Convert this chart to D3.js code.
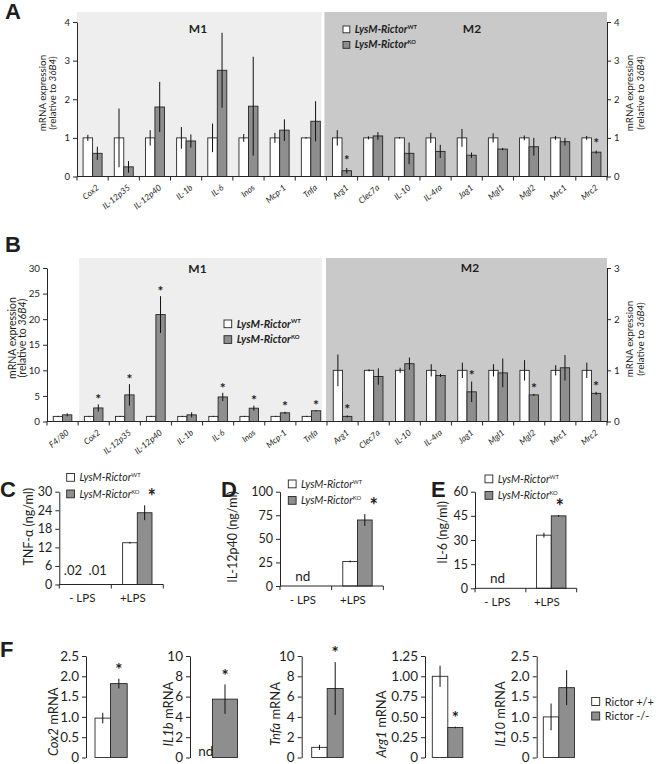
<!DOCTYPE html>
<html><head><meta charset="utf-8">
<script src="https://cdn.jsdelivr.net/npm/d3@7/dist/d3.min.js"></script>
<style>
body{margin:0;background:#fff;}
svg{display:block;}
text{font-family:Lato,"Open Sans","DejaVu Sans",sans-serif;fill:#1e1e1e;}
</style></head><body>
<svg id="fig" width="665" height="764"></svg>
<script>
// ================= DATA =================
// Panel A (mRNA expression relative to 36B4)
const catsA = ["Cox2","IL-12p35","IL-12p40","IL-1b","IL-6","Inos","Mcp-1","Tnfa","Arg1","Clec7a","IL-10","IL-4ra","Jag1","Mgl1","Mgl2","Mrc1","Mrc2"];
const m1CatsA = ["Cox2","IL-12p35","IL-12p40","IL-1b","IL-6","Inos","Mcp-1","Tnfa"];
const wtA    = [1,1,1,1,1,1,1,1,1,1,1,1,1,1,1,1,1];
const wtErrA = [0.08,0.76,0.2,0.28,0.37,0.1,0.13,0.02,0.2,0.04,0.02,0.13,0.23,0.12,0.06,0.05,0.05];
const koA    = [0.6,0.25,1.8,0.92,2.75,1.82,1.2,1.43,0.15,1.05,0.6,0.65,0.55,0.71,0.77,0.9,0.63];
const koErrA = [0.17,0.15,0.65,0.17,0.97,1.28,0.28,0.52,0.07,0.1,0.28,0.17,0.07,0.03,0.23,0.1,0.04];
const starsA = ["Arg1","Mrc2"];
const ticksA = [0,1,2,3,4];

// Panel B
const catsBLeft  = ["F4/80","Cox2","IL-12p35","IL-12p40","IL-1b","IL-6","Inos","Mcp-1","Tnfa"];
const wtBLeft    = [1,1,1,1,1,1,1,1,1];
const wtErrBLeft = [0.1,0.1,0.1,0.1,0.1,0.1,0.1,0.1,0.1];
const koBLeft    = [1.3,2.65,5.2,20.9,1.3,4.8,2.6,1.7,2.1];
const koErrBLeft = [0.3,0.7,2.1,3.6,0.5,0.8,0.5,0.2,0.1];
const catsBRight  = ["Arg1","Clec7a","IL-10","IL-4ra","Jag1","Mgl1","Mgl2","Mrc1","Mrc2"];
const wtBRight    = [1,1,1,1,1,1,1,1,1];
const wtErrBRight = [0.31,0.02,0.05,0.12,0.15,0.12,0.2,0.1,0.15];
const koBRight    = [0.1,0.88,1.13,0.9,0.58,0.95,0.52,1.05,0.55];
const koErrBRight = [0.02,0.16,0.12,0.03,0.2,0.28,0.02,0.25,0.03];
const starsB = ["Cox2","IL-12p35","IL-12p40","IL-6","Inos","Mcp-1","Tnfa","Arg1","Jag1","Mgl2","Mrc2"];
const ticksBLeft  = [0,5,10,15,20,25,30];
const ticksBRight = [0,1,2,3];

// Panels C, D, E (ng/ml)
const lpsGroups = ["- LPS","+LPS"];
const wtC = [0.02,13.5], wtErrC = [0,0.3], koC = [0.01,23.2], koErrC = [0,2.4];
const ticksC = [0,6,12,18,24,30];
const wtD = [null,26], wtErrD = [0,1], koD = [null,70], koErrD = [0,6.3];
const ticksD = [0,25,50,75,100];
const wtE = [null,33], wtErrE = [0,1.5], koE = [null,45], koErrE = [0,0.5];
const ticksE = [0,15,30,45,60];

// Panel F
const genesF  = ["Cox2","IL1b","Tnfa","Arg1","IL10"];
const wtF     = [0.97,null,1.0,1.0,1.0];
const wtErrF  = [0.13,0,0.25,0.13,0.33];
const koF     = [1.82,5.75,6.8,0.37,1.72];
const koErrF  = [0.12,1.45,2.6,0.01,0.43];
const starsF  = ["Cox2","IL1b","Tnfa","Arg1"];
const ticksF  = [[0,0.5,1,1.5,2,2.5],[0,2,4,6,8,10],[0,2,4,6,8,10],[0,0.25,0.5,0.75,1,1.25],[0,0.5,1,1.5,2,2.5]];
const tickFmtF = [".1f","d","d",".2f",".1f"];

// ================= DRAWING =================
const svg = d3.select("#fig");
const LINE = "#262626", GREY = "#8e8e8e", BG1 = "#eeeeee", BG2 = "#c9c9c9";

function letter(t, x, y){
  svg.append("text").attr("x",x).attr("y",y)
    .style("font-family","'Liberation Sans',Arial,sans-serif")
    .attr("font-weight","bold").attr("font-size",22).attr("fill","#000").text(t);
}
function fmtAxis(g, fs){
  g.attr("font-size", fs).attr("font-family", null);
  g.selectAll(".domain").attr("stroke", LINE).attr("stroke-width",1);
  g.selectAll(".tick line").attr("stroke", LINE).attr("stroke-width",1);
  g.selectAll(".tick text").attr("fill","#1e1e1e");
}
function drawPairs(g, cats, x, y, wt, wtErr, ko, koErr, bw, koW){
  const kw = koW || bw;
  const cx = c => x(c) + x.bandwidth()/2;
  const dWT = cats.map((c,i)=>({c, v:wt[i], e:wtErr[i]})).filter(d=>d.v!=null);
  const dKO = cats.map((c,i)=>({c, v:ko[i], e:koErr[i]})).filter(d=>d.v!=null);
  g.append("g").selectAll("rect").data(dWT).join("rect")
    .attr("x", d=>cx(d.c)-bw).attr("y", d=>y(d.v)).attr("width", bw)
    .attr("height", d=>y(0)-y(d.v)).attr("fill","#fff").attr("stroke",LINE).attr("stroke-width",0.9);
  g.append("g").selectAll("rect").data(dKO).join("rect")
    .attr("x", d=>cx(d.c)).attr("y", d=>y(d.v)).attr("width", kw)
    .attr("height", d=>y(0)-y(d.v)).attr("fill",GREY).attr("stroke",LINE).attr("stroke-width",0.9);
  g.append("g").selectAll("line").data(dWT.filter(d=>d.e>0)).join("line")
    .attr("x1", d=>cx(d.c)-bw/2).attr("x2", d=>cx(d.c)-bw/2)
    .attr("y1", d=>y(d.v+d.e)).attr("y2", d=>y(Math.max(0,d.v-d.e)))
    .attr("stroke","#111").attr("stroke-width",1);
  g.append("g").selectAll("line").data(dKO.filter(d=>d.e>0)).join("line")
    .attr("x1", d=>cx(d.c)+kw/2).attr("x2", d=>cx(d.c)+kw/2)
    .attr("y1", d=>y(d.v+d.e)).attr("y2", d=>y(Math.max(0,d.v-d.e)))
    .attr("stroke","#111").attr("stroke-width",1);
}
function drawStars(g, cats, x, y, ko, koErr, stars, kw, fs, gap, dx){
  const d = cats.map((c,i)=>({c, t: ko[i]+koErr[i]})).filter(d=>stars.includes(d.c));
  g.append("g").selectAll("text").data(d).join("text")
    .attr("x", d=>x(d.c)+x.bandwidth()/2+kw/2+(dx||0))
    .attr("y", d=>y(d.t)-gap+0.55*fs)
    .attr("text-anchor","middle").attr("font-weight","bold").attr("font-size",fs).text("*");
}
function rotLabel(x, yc, lines, fs, lh){
  const t = svg.append("text").attr("transform",`translate(${x},${yc}) rotate(-90)`)
    .attr("text-anchor","middle").attr("font-size",fs);
  lines.forEach((segs, li)=>{
    segs.forEach((s, si)=>{
      const ts = t.append("tspan").text(s[0]);
      if (si===0) ts.attr("x",0).attr("dy", li===0 ? 0 : lh);
      if (s[1]) ts.attr("font-style","italic");
    });
  });
}
function legendRow(x, y, sz, fill, base, sup, fs, bold, italic){
  svg.append("rect").attr("x",x).attr("y",y).attr("width",sz).attr("height",sz)
    .attr("fill",fill).attr("stroke",LINE).attr("stroke-width",0.9);
  const t = svg.append("text").attr("x",x+sz+5).attr("y",y+sz).attr("font-size",fs)
    .attr("font-style", italic ? "italic" : "normal").attr("font-weight", bold ? "bold":"normal");
  t.append("tspan").text(base);
  if (sup) t.append("tspan").attr("dy",-fs*0.4).attr("font-size",fs*0.55).attr("font-style","normal").text(sup);
}
function xLabels(cats, x, y0, fs){
  svg.append("g").selectAll("text").data(cats).join("text")
    .attr("transform", c=>`translate(${x(c)+x.bandwidth()/2+7},${y0+12}) rotate(-40)`)
    .attr("text-anchor","end").attr("font-size",fs).attr("font-style","italic").text(c=>c);
}
function xBandTicks(g, x, y0){
  const edges = x.domain().map(c=>x(c)).concat([x.range()[1]]);
  g.append("line").attr("x1",x.range()[0]).attr("x2",x.range()[1]).attr("y1",y0).attr("y2",y0)
    .attr("stroke",LINE).attr("stroke-width",1);
  g.append("g").selectAll("line").data(edges).join("line")
    .attr("x1",d=>d).attr("x2",d=>d).attr("y1",y0).attr("y2",y0+4).attr("stroke",LINE).attr("stroke-width",1);
}
const intFmt = d3.format("d");

// ---------- Panel A ----------
{
  letter("A", 5, 19);
  const x = d3.scaleBand().domain(catsA).range([77,607]);
  const y = d3.scaleLinear().domain([0,4]).range([176.5,22]);
  const g = svg.append("g");
  const split = x(catsA[m1CatsA.length]);
  g.append("rect").attr("x",x.range()[0]).attr("y",12).attr("width",split-5-x.range()[0]).attr("height",y(0)-12).attr("fill",BG1);
  g.append("rect").attr("x",split-2).attr("y",12).attr("width",x.range()[1]-split+2).attr("height",y(0)-12).attr("fill",BG2);
  g.append("text").attr("x",198).attr("y",33).attr("text-anchor","middle").attr("font-weight","bold").attr("font-size",12).text("M1");
  g.append("text").attr("x",472).attr("y",33).attr("text-anchor","middle").attr("font-weight","bold").attr("font-size",12).text("M2");
  drawPairs(g, catsA, x, y, wtA, wtErrA, koA, koErrA, 9.5);
  drawStars(g, catsA, x, y, koA, koErrA, starsA, 9.5, 13, 10, 0);
  const ya = g.append("g").attr("transform","translate(77,0)").call(d3.axisLeft(y).tickValues(ticksA).tickFormat(intFmt).tickSize(4).tickSizeOuter(0));
  fmtAxis(ya, 9.5);
  const yb = g.append("g").attr("transform","translate(607,0)").call(d3.axisRight(y).tickValues(ticksA).tickFormat(intFmt).tickSize(4).tickSizeOuter(0));
  fmtAxis(yb, 9.5);
  xBandTicks(g, x, y(0));
  xLabels(catsA, x, y(0), 8.5);
  rotLabel(45.5, 93, [[["mRNA expression"]],[["(relative to "],["36B4",true],[")"]]], 9.8, 10.5);
  rotLabel(633, 93, [[["mRNA expression"]],[["(relative to "],["36B4",true],[")"]]], 9.8, 10.5);
  legendRow(343, 26, 6.8, "#fff", "LysM-Rictor", "WT", 10.5, true, true);
  legendRow(343, 41.5, 6.8, GREY, "LysM-Rictor", "KO", 10.5, true, true);
}

// ---------- Panel B ----------
{
  letter("B", 5, 252);
  const cats = catsBLeft.concat(catsBRight);
  const x = d3.scaleBand().domain(cats).range([47,607]);
  const yL = d3.scaleLinear().domain([0,30]).range([421.5,268]);
  const yR = d3.scaleLinear().domain([0,3]).range([421.5,268]);
  const g = svg.append("g");
  const m1Start = x(catsBLeft[1]);
  const split = x(catsBRight[0]);
  g.append("rect").attr("x",m1Start+1).attr("y",258).attr("width",split-5-m1Start-1).attr("height",yL(0)-258).attr("fill",BG1);
  g.append("rect").attr("x",split-1).attr("y",258).attr("width",x.range()[1]-split+1).attr("height",yL(0)-258).attr("fill",BG2);
  g.append("text").attr("x",197.5).attr("y",272.5).attr("text-anchor","middle").attr("font-weight","bold").attr("font-size",12).text("M1");
  g.append("text").attr("x",470).attr("y",272).attr("text-anchor","middle").attr("font-weight","bold").attr("font-size",12).text("M2");
  drawPairs(g, catsBLeft, x, yL, wtBLeft, wtErrBLeft, koBLeft, koErrBLeft, 9.3);
  drawPairs(g, catsBRight, x, yR, wtBRight, wtErrBRight, koBRight, koErrBRight, 9.3);
  drawStars(g, catsBLeft, x, yL, koBLeft, koErrBLeft, starsB, 9.3, 14, 8, 0);
  drawStars(g, catsBRight, x, yR, koBRight, koErrBRight, starsB, 9.3, 14, 9, 0);
  const ya = g.append("g").attr("transform","translate(47,0)").call(d3.axisLeft(yL).tickValues(ticksBLeft).tickFormat(intFmt).tickSize(4).tickSizeOuter(0));
  fmtAxis(ya, 9.8);
  const yb = g.append("g").attr("transform","translate(607,0)").call(d3.axisRight(yR).tickValues(ticksBRight).tickFormat(intFmt).tickSize(4).tickSizeOuter(0));
  fmtAxis(yb, 9.8);
  xBandTicks(g, x, yL(0));
  xLabels(cats, x, yL(0), 8.5);
  rotLabel(15.5, 338, [[["mRNA expression"]],[["(relative to "],["36B4",true],[")"]]], 10.5, 10.8);
  rotLabel(633, 339, [[["mRNA expression"]],[["(relative to "],["36B4",true],[")"]]], 9.8, 10.5);
  legendRow(224, 320, 7.7, "#fff", "LysM-Rictor", "WT", 10.8, true, true);
  legendRow(224, 335.7, 7.7, GREY, "LysM-Rictor", "KO", 10.8, true, true);
}

// ---------- Panels C, D, E ----------
function lpsPanel(o){
  letter(o.letter, o.lx, 497);
  const x = d3.scaleBand().domain(lpsGroups).range([o.ax, o.ax2]);
  const y = d3.scaleLinear().domain([0, o.ticks[o.ticks.length-1]]).range([o.bottom, 491.7]);
  const g = svg.append("g");
  drawPairs(g, lpsGroups, x, y, o.wt, o.wtErr, o.ko, o.koErr, 14.7);
  drawStars(g, lpsGroups, x, y, o.ko.map(v=>v==null?0:v), o.koErr, ["+LPS"], 14.7, 20, 12, o.sdx);
  const ya = g.append("g").attr("transform",`translate(${o.ax},0)`).call(d3.axisLeft(y).tickValues(o.ticks).tickFormat(intFmt).tickSize(4).tickSizeOuter(0));
  fmtAxis(ya, 12.5);
  xBandTicks(g, x, y(0));
  g.append("g").selectAll("text").data(lpsGroups).join("text")
    .attr("x", (c,i)=>x(c)+x.bandwidth()/2 - (i===0?3:4.5)).attr("y", y(0)+17.5)
    .attr("text-anchor","middle").attr("font-size",11.5).text(c=>c);
  if (o.notes){
    const cx = x(lpsGroups[0]) + x.bandwidth()/2;
    g.append("text").attr("x",cx-7.35-5).attr("y",y(0)-9.5).attr("text-anchor","middle").attr("font-size",13)
      .text(String(o.wt[0]).replace(/^0/,""));
    g.append("text").attr("x",cx+7.35+5).attr("y",y(0)-9.5).attr("text-anchor","middle").attr("font-size",13)
      .text(String(o.ko[0]).replace(/^0/,""));
  } else {
    g.append("text").attr("x", x(lpsGroups[0])+x.bandwidth()/2-3).attr("y", y(0)-5.5)
      .attr("text-anchor","middle").attr("font-size",13.5).text("nd");
  }
  rotLabel(o.ylx, o.yly, [[[o.ylab]]], 12.5, 12);
  legendRow(o.legx, o.legy, 7.8, "#fff", "LysM-Rictor", "WT", 10.5, false, true);
  legendRow(o.legx, o.legy+16.5, 7.8, GREY, "LysM-Rictor", "KO", 10.5, false, true);
}
lpsPanel({letter:"C", lx:0, ax:59.3, ax2:163.3, bottom:584.5, ticks:ticksC, wt:wtC, wtErr:wtErrC, ko:koC, koErr:koErrC,
  notes:true, sdx:7, ylab:"TNF-α (ng/ml)", ylx:33, yly:526.7, legx:66.7, legy:473.5});
lpsPanel({letter:"D", lx:221, ax:280, ax2:383.3, bottom:586, ticks:ticksD, wt:wtD, wtErr:wtErrD, ko:koD, koErr:koErrD,
  notes:false, sdx:9, ylab:"IL-12p40 (ng/ml)", ylx:237, yly:537, legx:288.3, legy:480});
lpsPanel({letter:"E", lx:431, ax:475, ax2:576.7, bottom:588.3, ticks:ticksE, wt:wtE, wtErr:wtErrE, ko:koE, koErr:koErrE,
  notes:false, sdx:1, ylab:"IL-6 (ng/ml)", ylx:447, yly:532.5, legx:485, legy:475});

// ---------- Panel F ----------
{
  letter("F", 0, 657);
  const axX   = [86, 190, 301.7, 425, 536.7];
  const wtOff = [9, 7, 10, 7.3, 6.6];
  const koW   = [16.7, 25, 16, 15, 15.7];
  const labX  = [57.5, 173, 280, 386, 505];
  const labY  = [721.7, 714, 714, 724, 714];
  genesF.forEach((gene, i)=>{
    const g = svg.append("g");
    const x = d3.scaleBand().domain([gene]).range([axX[i]+wtOff[i], axX[i]+wtOff[i]+31]);
    const y = d3.scaleLinear().domain([0, ticksF[i][ticksF[i].length-1]]).range([757.5, 656]);
    drawPairs(g, [gene], x, y, [wtF[i]], [wtErrF[i]], [koF[i]], [koErrF[i]], 15.5, koW[i]);
    drawStars(g, [gene], x, y, [koF[i]], [koErrF[i]], starsF, koW[i], 17, 12, 0);
    const f = d3.format(tickFmtF[i]);
    const ya = g.append("g").attr("transform",`translate(${axX[i]},0)`)
      .call(d3.axisLeft(y).tickValues(ticksF[i]).tickSize(4).tickSizeOuter(0).tickFormat(v=>v===0?"0":f(v)));
    fmtAxis(ya, 13.5);
    if (wtF[i]==null){
      g.append("text").attr("x", x(gene)+x.bandwidth()/2-15.5/2+1).attr("y", 756).attr("text-anchor","middle")
        .attr("font-size",13.5).text("nd");
    }
    rotLabel(labX[i], labY[i], [[[gene,true],[" mRNA"]]], 13, 14);
  });
  legendRow(591.7, 697.5, 8, "#fff", "Rictor +/+", null, 11, false, false);
  legendRow(591.7, 712, 8, GREY, "Rictor -/-", null, 11, false, false);
}
</script>
</body></html>
